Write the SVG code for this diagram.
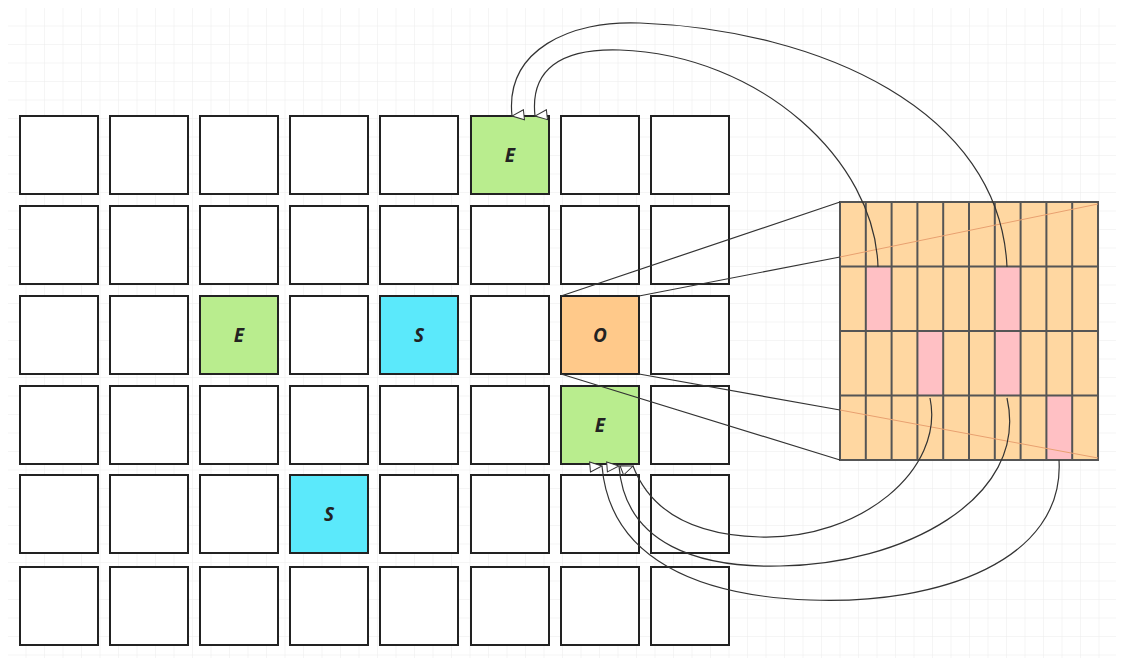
<svg xmlns="http://www.w3.org/2000/svg" width="1122" height="665" viewBox="0 0 1122 665">
<defs>
<pattern id="g" width="18.5" height="18.5" patternUnits="userSpaceOnUse" x="8" y="8"><path d="M18.5 0V18.5H0" fill="none" stroke="#ececec" stroke-width="1"/></pattern>
<marker id="a" markerWidth="12" markerHeight="14" refX="6" refY="13" orient="auto-start-reverse" markerUnits="userSpaceOnUse" viewBox="0 0 12 14"><path d="M1 1L6 13L11 1Z" fill="#fff" stroke="#333" stroke-width="1"/></marker>
<style>
.c{fill:#fff;stroke:#222;stroke-width:2}
.t{font-family:"Open Sans","Liberation Sans",sans-serif;font-style:italic;font-weight:bold;font-size:19px;fill:#222;text-anchor:middle}
.k{fill:none;stroke:#333;stroke-width:1.2}
.o{fill:#ffd7a1;stroke:#555;stroke-width:2}
</style>
</defs>
<rect width="1122" height="665" fill="#fff"/>
<rect x="8" y="8" width="1108" height="650" fill="url(#g)"/>
<g id="grid">
<g fill="#fff" stroke="#222" stroke-width="2">
<rect x="20" y="116" width="78" height="78"/><rect x="110" y="116" width="78" height="78"/><rect x="200" y="116" width="78" height="78"/><rect x="290" y="116" width="78" height="78"/><rect x="380" y="116" width="78" height="78"/><rect x="561" y="116" width="78" height="78"/><rect x="651" y="116" width="78" height="78"/>
<rect x="20" y="206" width="78" height="78"/><rect x="110" y="206" width="78" height="78"/><rect x="200" y="206" width="78" height="78"/><rect x="290" y="206" width="78" height="78"/><rect x="380" y="206" width="78" height="78"/><rect x="471" y="206" width="78" height="78"/><rect x="561" y="206" width="78" height="78"/><rect x="651" y="206" width="78" height="78"/>
<rect x="20" y="296" width="78" height="78"/><rect x="110" y="296" width="78" height="78"/><rect x="290" y="296" width="78" height="78"/><rect x="471" y="296" width="78" height="78"/><rect x="651" y="296" width="78" height="78"/>
<rect x="20" y="386" width="78" height="78"/><rect x="110" y="386" width="78" height="78"/><rect x="200" y="386" width="78" height="78"/><rect x="290" y="386" width="78" height="78"/><rect x="380" y="386" width="78" height="78"/><rect x="471" y="386" width="78" height="78"/><rect x="651" y="386" width="78" height="78"/>
<rect x="20" y="475" width="78" height="78"/><rect x="110" y="475" width="78" height="78"/><rect x="200" y="475" width="78" height="78"/><rect x="380" y="475" width="78" height="78"/><rect x="471" y="475" width="78" height="78"/><rect x="561" y="475" width="78" height="78"/><rect x="651" y="475" width="78" height="78"/>
<rect x="20" y="567" width="78" height="78"/><rect x="110" y="567" width="78" height="78"/><rect x="200" y="567" width="78" height="78"/><rect x="290" y="567" width="78" height="78"/><rect x="380" y="567" width="78" height="78"/><rect x="471" y="567" width="78" height="78"/><rect x="561" y="567" width="78" height="78"/><rect x="651" y="567" width="78" height="78"/>
</g>
</g>
<g id="e1"><rect x="471" y="116" width="78" height="78" fill="#b9ed8e" stroke="#222" stroke-width="2"/><text class="t" x="510" y="162">E</text></g>
<g id="e2"><rect x="200" y="296" width="78" height="78" fill="#b9ed8e" stroke="#222" stroke-width="2"/><text class="t" x="239" y="342">E</text></g>
<g id="s1"><rect x="380" y="296" width="78" height="78" fill="#5be9fb" stroke="#222" stroke-width="2"/><text class="t" x="419" y="342">S</text></g>
<g id="o"><rect x="561" y="296" width="78" height="78" fill="#ffc98a" stroke="#222" stroke-width="2"/><text class="t" x="600" y="342">O</text></g>
<g id="e3"><rect x="561" y="386" width="78" height="78" fill="#b9ed8e" stroke="#222" stroke-width="2"/><text class="t" x="600" y="432">E</text></g>
<g id="s2"><rect x="290" y="475" width="78" height="78" fill="#5be9fb" stroke="#222" stroke-width="2"/><text class="t" x="329" y="521">S</text></g>
<g id="table">
<rect class="o" x="840" y="202" width="258" height="258"/>
<g fill="#ffc0c4"><rect x="866" y="267" width="25" height="64"/><rect x="995" y="267" width="25" height="64"/><rect x="918" y="331" width="25" height="64"/><rect x="995" y="331" width="25" height="64"/><rect x="1047" y="395" width="25" height="65"/></g>
<g stroke="#555" stroke-width="2" fill="none">
<path d="M865.8 202V460M891.6 202V460M917.4 202V460M943.2 202V460M969 202V460M994.8 202V460M1020.6 202V460M1046.4 202V460M1072.2 202V460"/>
<path d="M840 266.5H1098M840 331H1098M840 395.5H1098"/>
<rect x="840" y="202" width="258" height="258"/>
</g>
<path d="M840 257L1098 204M840 410L1098 458" stroke="#e8a070" stroke-width="1"/>
</g>
<g id="connectors" class="k">
<path d="M561 296L840 202M639 296L840 257M561 374L840 460M639 374L840 410"/>
<path d="M878 267C875 160 760 55 620 50C560 48 530 70 535 116" marker-end="url(#a)"/>
<path d="M1007 267C1000 110 820 30 640 23C570 20 505 50 512 116" marker-end="url(#a)"/>
<path d="M930 398C945 470 860 540 760 537C690 535 650 510 633 466" marker-end="url(#a)"/>
<path d="M1007 398C1030 500 900 565 780 566C700 568 625 545 619 466" marker-end="url(#a)"/>
<path d="M1059 460C1065 560 940 605 810 600C700 596 610 560 602 466" marker-end="url(#a)"/>
</g>
</svg>
